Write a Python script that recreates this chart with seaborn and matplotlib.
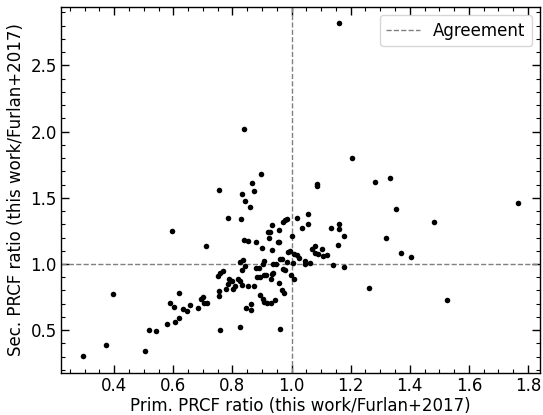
import numpy as np
import pandas as pd
import seaborn as sns
import matplotlib
matplotlib.use("Agg")
import matplotlib.pyplot as plt
from matplotlib.ticker import MultipleLocator

# PRCF ratios: primary (x) and secondary (y), this work / Furlan+2017
prim_ratio = [
    1.161, 0.839, 1.206, 0.897, 1.334, 1.283, 0.865, 1.085, 1.085, 0.755,
    0.873, 0.833, 0.844, 1.768, 0.860, 1.355, 1.056, 0.786, 1.020, 0.830,
    0.983, 0.977, 0.970, 1.483, 1.056, 1.159, 0.934, 1.037, 1.134, 1.159,
    0.958, 0.596, 0.920, 0.927, 1.003, 1.178, 1.319, 0.923, 0.839, 0.854,
    0.880, 0.953, 0.959, 1.157, 0.710, 1.081, 0.901, 1.069, 1.103, 0.934,
    0.988, 0.994, 1.078, 1.088, 1.008, 1.017, 1.106, 1.119, 1.024, 1.372,
    1.403, 0.827, 0.836, 0.842, 0.906, 0.903, 0.936, 0.949, 0.961, 0.968,
    0.983, 1.006, 1.047, 1.045, 1.063, 1.141, 1.176, 0.879, 0.890, 0.833,
    0.970, 0.977, 0.769, 0.757, 0.752, 0.906, 0.912, 0.933, 0.938, 0.893,
    0.882, 0.929, 0.998, 1.008, 0.790, 0.797, 0.818, 0.827, 0.786, 0.833,
    0.809, 0.802, 0.777, 0.854, 0.872, 0.957, 0.967, 0.974, 0.753, 0.753,
    0.619, 0.396, 0.894, 0.903, 0.906, 0.917, 0.931, 0.943, 0.863, 0.863,
    0.845, 0.701, 0.693, 0.705, 0.714, 0.683, 0.657, 0.589, 0.603, 0.633,
    0.646, 0.619, 0.604, 0.579, 0.516, 0.541, 0.759, 0.827, 0.961, 0.371,
    0.505, 0.293, 1.263, 1.525,
]
sec_ratio = [
    2.818, 2.023, 1.800, 1.683, 1.647, 1.623, 1.609, 1.604, 1.587, 1.560,
    1.551, 1.529, 1.474, 1.458, 1.431, 1.413, 1.380, 1.347, 1.347, 1.341,
    1.341, 1.333, 1.318, 1.315, 1.304, 1.300, 1.294, 1.275, 1.270, 1.266,
    1.254, 1.247, 1.240, 1.238, 1.215, 1.213, 1.199, 1.195, 1.183, 1.174,
    1.167, 1.168, 1.165, 1.146, 1.138, 1.135, 1.120, 1.116, 1.112, 1.107,
    1.094, 1.101, 1.084, 1.073, 1.077, 1.069, 1.058, 1.069, 1.047, 1.080,
    1.050, 1.017, 1.034, 0.983, 1.024, 0.998, 1.003, 1.003, 1.041, 1.041,
    1.018, 1.011, 1.023, 1.000, 1.011, 0.990, 0.977, 0.968, 0.970, 0.955,
    0.965, 0.951, 0.949, 0.930, 0.906, 0.915, 0.917, 0.928, 0.932, 0.900,
    0.900, 0.885, 0.919, 0.887, 0.885, 0.874, 0.890, 0.870, 0.850, 0.844,
    0.831, 0.812, 0.812, 0.833, 0.836, 0.857, 0.806, 0.778, 0.799, 0.755,
    0.778, 0.771, 0.767, 0.735, 0.713, 0.703, 0.703, 0.726, 0.696, 0.656,
    0.668, 0.750, 0.734, 0.705, 0.705, 0.664, 0.688, 0.704, 0.675, 0.658,
    0.645, 0.596, 0.560, 0.546, 0.503, 0.497, 0.503, 0.524, 0.508, 0.385,
    0.343, 0.302, 0.818, 0.725,
]

x_label = "Prim. PRCF ratio (this work/Furlan+2017)"
y_label = "Sec. PRCF ratio (this work/Furlan+2017)"
line_label = "Agreement"

df = pd.DataFrame({"prim": prim_ratio, "sec": sec_ratio})

sns.set_style("ticks")
plt.rcParams["font.family"] = ["DejaVu Sans"]
plt.rcParams.update({
    "text.color": "black",
    "axes.labelcolor": "black",
    "xtick.color": "black",
    "ytick.color": "black",
    "axes.edgecolor": "black",
})

fig = plt.figure(figsize=(5.43, 4.15), dpi=100)
ax = fig.add_axes([0.112, 0.101, 0.883, 0.883])

sns.scatterplot(data=df, x="prim", y="sec", ax=ax, color="black",
                s=16, linewidth=0, zorder=3, legend=False)

ax.axhline(1.0, ls="--", color="grey", lw=1.0, label=line_label, zorder=1)
ax.axvline(1.0, ls="--", color="grey", lw=1.0, zorder=1)

ax.set_xlabel(x_label, fontsize=12, labelpad=1)
ax.set_ylabel(y_label, fontsize=12, labelpad=4)

ax.xaxis.set_major_locator(MultipleLocator(0.2))
ax.xaxis.set_minor_locator(MultipleLocator(0.05))
ax.yaxis.set_major_locator(MultipleLocator(0.5))
ax.yaxis.set_minor_locator(MultipleLocator(0.1))
ax.tick_params(which="both", direction="in", top=True, right=True,
               labelsize=12, pad=3)
ax.tick_params(which="major", length=6, width=1)
ax.tick_params(which="minor", length=3, width=0.8)
for sp in ax.spines.values():
    sp.set_linewidth(1.0)

ax.legend(loc="upper right", fontsize=12, frameon=True)

fig.savefig("out.png", dpi=100)
